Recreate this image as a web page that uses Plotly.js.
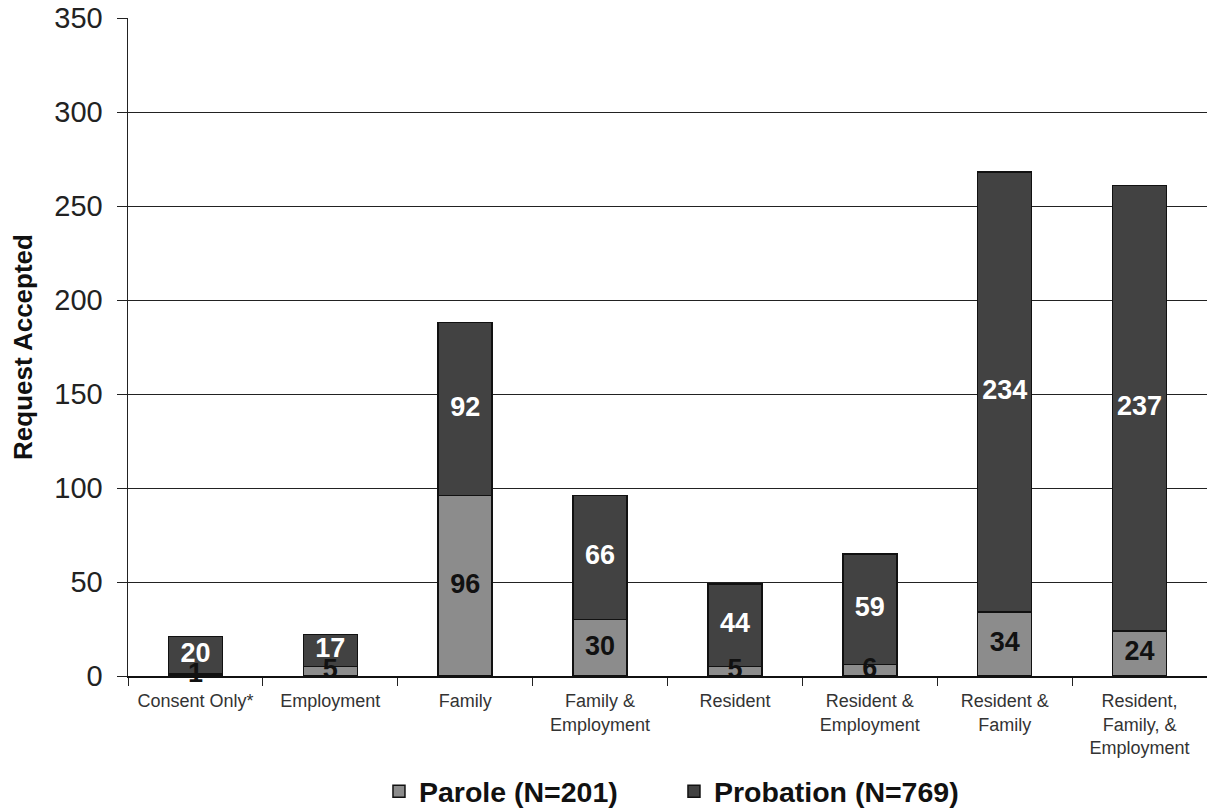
<!DOCTYPE html>
<html><head><meta charset="utf-8">
<script src="https://cdn.plot.ly/plotly-3.0.1.min.js"></script>
<style>html,body{margin:0;padding:0;background:#fff}#c{width:1207px;height:810px}</style>
</head><body><div id="c"></div>
<script>
const categories = ["Consent Only*","Employment","Family","Family &<br>Employment","Resident","Resident &<br>Employment","Resident &<br>Family","Resident,<br>Family, &<br>Employment"];
const parole = [1,5,96,30,5,6,34,24];
const probation = [20,17,92,66,44,59,234,237];
const paroleName = "Parole (N=201)";
const probationName = "Probation (N=769)";

const font = "Arial, 'Liberation Sans', sans-serif";
const paroleMid = parole.map(v => v/2);
const probMid = probation.map((v,i) => parole[i] + v/2);

const traces = [
  {type:'bar', x:categories, y:parole, name:paroleName, width:0.4,
   marker:{color:'#8c8c8c', line:{color:'#111', width:1.5}}, hoverinfo:'skip'},
  {type:'bar', x:categories, y:probation, name:probationName, width:0.4,
   marker:{color:'#424242', line:{color:'#111', width:1.5}}, hoverinfo:'skip'},
  {type:'scatter', mode:'text', x:categories, y:paroleMid, text:parole.map(String),
   textfont:{family:font, size:27, color:'#111', weight:'bold'}, showlegend:false, cliponaxis:false, hoverinfo:'skip'},
  {type:'scatter', mode:'text', x:categories, y:probMid, text:probation.map(String),
   textfont:{family:font, size:27, color:'#fff', weight:'bold'}, showlegend:false, cliponaxis:false, hoverinfo:'skip'}
];

const layout = {
  width:1207, height:810,
  margin:{l:128, r:0, t:18, b:134, autoexpand:false},
  paper_bgcolor:'#fff', plot_bgcolor:'#fff',
  barmode:'stack',
  font:{family:font, color:'#222'},
  xaxis:{type:'category', tickson:'boundaries', ticks:'outside', ticklen:8, tickcolor:'#222',
         showline:true, linecolor:'#111', linewidth:1.5, showgrid:false, ticklabelstandoff:8,
         tickfont:{family:font, size:18, color:'#333'}, automargin:false},
  yaxis:{range:[0,350], dtick:50, ticks:'outside', ticklen:10, tickcolor:'#222',
         showline:true, linecolor:'#222', linewidth:1.5, gridcolor:'#222', gridwidth:1,
         zeroline:false, tickfont:{family:font, size:29, color:'#222'}, ticklabelstandoff:8,
         title:{text:'Request Accepted', font:{family:font, size:26, color:'#111', weight:'bold'}, standoff:14},
         automargin:false},
  legend:{orientation:'h', x:0.506, xanchor:'center', y:-0.176, yanchor:'middle',
          font:{family:font, size:28.5, color:'#111', weight:'bold'}, itemwidth:30, traceorder:'normal',
          entrywidth:250},
  showlegend:true
};
Plotly.newPlot('c', traces, layout, {displayModeBar:false, staticPlot:true});
</script></body></html>
